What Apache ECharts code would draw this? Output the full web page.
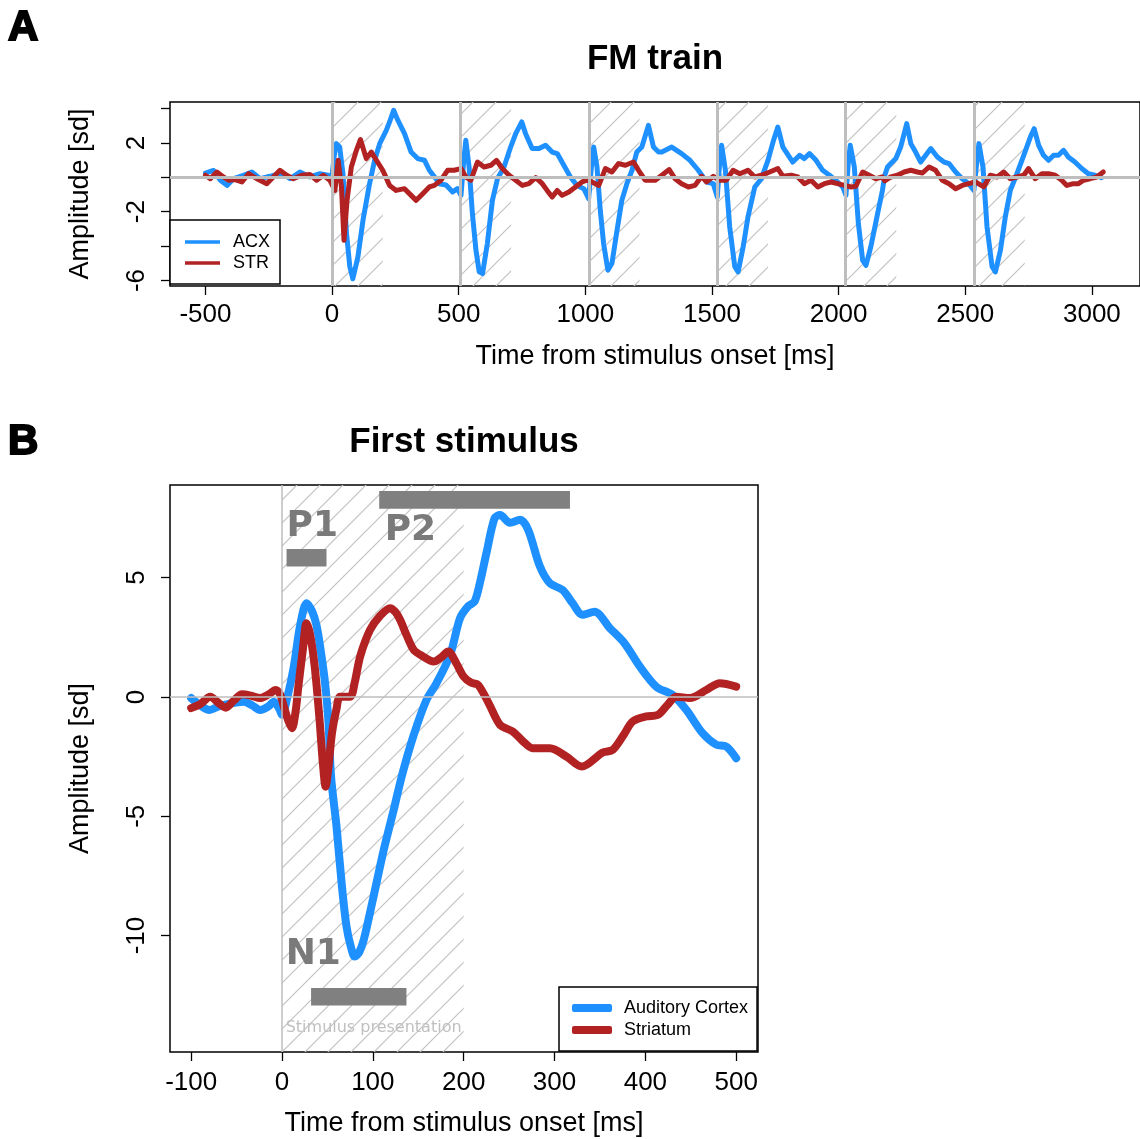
<!DOCTYPE html>
<html><head><meta charset="utf-8">
<script src="https://cdn.jsdelivr.net/npm/echarts@6/dist/echarts.min.js"></script>
<style>html,body{margin:0;padding:0;background:#fff}#c{width:1140px;height:1139px}</style>
</head><body><div id="c"></div>
<script>
// ---------- Panel A: FM train (time ms, amplitude sd) ----------
const acxA = [[-500,0.25],[-468,0.4],[-441,-0.17],[-415,-0.47],[-389,-0.08],[-350,0.12],[-317,0.31],[-284,-0.08],[-245,0.06],[-199,0.25],[-166,-0.08],[-127,0.31],[-88,0.02],[-48,0.21],[-16,0.12],[-2,-0.17],[8,1.2],[17,1.96],[30,1.76],[43,0.21],[57,-3.27],[70,-5.2],[82,-5.9],[102,-4.63],[122,-2.5],[148,-0.37],[168,0.99],[188,1.96],[214,2.73],[227,3.22],[243,3.9],[260,3.31],[286,2.54],[312,1.47],[338,1.09],[365,0.99],[384,0.41],[410,-0.08],[423,-0.37],[450,-0.45],[476,-0.85],[495,-0.66],[509,-1.05],[520,1.0],[528,2.15],[541,0.6],[554,-2.11],[568,-4.24],[581,-5.5],[594,-5.6],[613,-3.85],[633,-1.34],[653,-0.08],[679,0.6],[705,1.76],[725,2.54],[749,3.22],[764,2.54],[790,1.67],[817,1.67],[843,1.86],[869,1.47],[889,1.38],[915,0.7],[941,0.02],[967,-0.47],[994,-0.66],[1013,-1.24],[1025,0.8],[1033,1.76],[1046,0.6],[1059,-1.92],[1072,-3.85],[1089,-5.4],[1105,-5.0],[1125,-3.08],[1144,-1.34],[1164,-0.37],[1184,0.41],[1203,1.47],[1223,1.76],[1249,3.02],[1269,1.76],[1289,1.47],[1302,1.47],[1341,1.76],[1380,1.38],[1413,0.99],[1446,0.41],[1479,-0.27],[1505,-0.37],[1521,-1.15],[1530,0.8],[1538,1.86],[1553,0.41],[1570,-2.89],[1590,-5.2],[1603,-5.5],[1623,-4.05],[1642,-2.31],[1669,-0.56],[1695,-0.08],[1721,0.99],[1741,2.05],[1760,2.92],[1780,1.76],[1806,1.18],[1819,0.89],[1846,1.28],[1865,1.09],[1885,1.38],[1911,0.99],[1937,0.41],[1964,0.12],[1996,-0.27],[2016,-0.56],[2029,-1.05],[2038,0.8],[2046,1.86],[2062,0.6],[2078,-2.69],[2095,-4.83],[2108,-5.12],[2127,-4.05],[2154,-2.11],[2173,-0.76],[2182,0.1],[2193,0.6],[2206,0.8],[2226,1.09],[2245,1.76],[2269,3.12],[2285,1.96],[2304,1.47],[2324,0.89],[2344,1.28],[2364,1.67],[2390,1.18],[2416,0.89],[2436,0.8],[2462,0.31],[2488,-0.08],[2514,-0.37],[2534,-0.76],[2545,0.8],[2554,1.96],[2570,0.6],[2586,-2.89],[2606,-5.2],[2619,-5.5],[2639,-4.24],[2658,-2.31],[2678,-0.76],[2704,0.21],[2731,1.28],[2757,2.34],[2772,2.83],[2790,1.86],[2809,1.28],[2829,0.99],[2849,1.28],[2868,1.28],[2888,1.57],[2907,1.18],[2933,0.89],[2960,0.51],[2986,0.21],[3012,0.12],[3038,-0.02]];
const strA = [[-500,0.12],[-481,-0.08],[-455,0.31],[-429,0.02],[-409,-0.17],[-383,-0.13],[-356,-0.27],[-330,0.21],[-297,-0.08],[-258,-0.37],[-232,0.02],[-206,0.41],[-179,0.12],[-153,-0.08],[-120,0.12],[-88,0.17],[-61,-0.17],[-35,0.12],[-9,-0.17],[11,-0.76],[24,0.99],[37,-0.56],[47,-3.66],[59,-1.34],[76,0.6],[96,1.57],[112,2.2],[135,1.09],[155,1.47],[175,0.99],[200,0.41],[227,-0.47],[253,-0.76],[286,-0.66],[312,-1.05],[332,-1.34],[358,-0.95],[384,-0.56],[404,-0.47],[430,-0.17],[456,0.41],[482,0.41],[509,0.51],[528,0.02],[548,-0.17],[574,0.89],[600,0.6],[627,0.7],[649,0.99],[672,0.51],[699,0.12],[725,-0.17],[751,-0.47],[777,-0.37],[804,-0.02],[830,-0.37],[849,-0.76],[869,-1.15],[889,-0.76],[908,-1.05],[935,-0.85],[961,-0.56],[987,-0.27],[1007,-0.17],[1026,-0.27],[1053,-0.47],[1079,0.51],[1105,0.31],[1131,0.8],[1158,0.7],[1190,0.89],[1210,0.41],[1236,-0.17],[1262,-0.17],[1276,-0.17],[1302,0.12],[1331,0.45],[1354,-0.08],[1380,-0.37],[1407,-0.56],[1433,-0.47],[1459,0.06],[1479,-0.27],[1505,0.06],[1531,-0.17],[1557,-0.17],[1583,0.41],[1610,0.21],[1642,0.41],[1669,0.02],[1695,0.12],[1728,0.31],[1760,0.51],[1780,0.06],[1813,0.12],[1839,0.02],[1865,-0.37],[1891,-0.17],[1918,-0.56],[1944,-0.37],[1970,-0.27],[1996,-0.37],[2023,-0.47],[2049,-0.56],[2068,-0.52],[2095,0.31],[2121,0.12],[2147,-0.08],[2173,0.02],[2182,-0.2],[2206,0.02],[2232,0.12],[2259,0.31],[2285,0.41],[2311,0.31],[2331,0.25],[2357,0.6],[2383,0.41],[2409,-0.17],[2436,-0.37],[2462,-0.66],[2488,-0.47],[2514,-0.37],[2540,-0.27],[2573,-0.56],[2599,0.12],[2626,0.02],[2652,0.31],[2678,-0.08],[2704,0.02],[2731,0.12],[2750,0.51],[2776,-0.08],[2803,0.21],[2829,0.21],[2855,0.12],[2881,-0.17],[2901,-0.47],[2927,-0.37],[2947,-0.37],[2967,-0.17],[2993,-0.08],[3019,0.02],[3045,0.31]];
const stimOnsetsA = [0, 507, 1014, 1521, 2028, 2535];
const stimDuration = 200;
const xTicksA = [-500, 0, 500, 1000, 1500, 2000, 2500, 3000];
const yTicksA = [-6, -4, -2, 0, 2, 4];
const yLabelsA = [-6, -2, 2];

// ---------- Panel B: First stimulus ----------
const acxB = [[-100,-0.05],[-90,-0.35],[-80,-0.55],[-70,-0.4],[-60,-0.3],[-42,-0.2],[-33,-0.35],[-24,-0.55],[-15,-0.4],[-9,-0.2],[-3,-0.5],[0,-0.75],[6,0.0],[13,1.27],[20,3.0],[27,3.92],[33,3.6],[38,3.0],[42,2.1],[47,0.71],[51,-0.96],[54,-3.34],[60,-5.43],[66,-7.95],[71,-9.62],[76,-10.5],[80,-10.88],[85,-10.7],[90,-10.18],[100,-8.5],[112,-6.41],[123,-4.73],[132,-3.3],[145,-1.6],[159,-0.13],[170,0.57],[185,1.75],[196,3.3],[205,3.8],[212,4.0],[218,4.8],[225,6.02],[234,7.49],[240,7.62],[251,7.3],[262,7.42],[271,7.0],[284,5.46],[295,4.76],[309,4.48],[320,3.92],[331,3.44],[344,3.57],[361,2.88],[377,2.25],[394,1.27],[412,0.43],[430,0.08],[445,-0.54],[463,-1.52],[478,-2.0],[489,-2.08],[500,-2.57]];
const strB = [[-100,-0.47],[-90,-0.3],[-79,0.01],[-70,-0.25],[-62,-0.45],[-53,-0.15],[-44,0.11],[-34,0.05],[-24,-0.05],[-15,0.1],[-7,0.29],[-2,0.1],[2,-0.4],[7,-1.0],[11,-1.31],[15,-0.6],[18,0.43],[23,2.0],[27,3.09],[31,2.6],[36,1.27],[41,-0.8],[45,-2.78],[48,-3.76],[51,-3.0],[55,-1.52],[60,-0.5],[64,0.01],[75,0.01],[80,0.6],[86,1.69],[97,2.81],[108,3.4],[119,3.72],[125,3.55],[130,3.23],[137,2.6],[145,1.97],[155,1.7],[167,1.48],[175,1.65],[183,1.9],[192,1.4],[200,0.85],[208,0.6],[216,0.5],[228,-0.3],[240,-1.17],[254,-1.45],[265,-1.85],[276,-2.15],[295,-2.15],[313,-2.5],[330,-2.92],[353,-2.33],[364,-2.22],[376,-1.6],[386,-1.03],[401,-0.82],[414,-0.75],[424,-0.35],[434,0.01],[449,-0.05],[467,0.29],[482,0.57],[500,0.43]];
const xTicksB = [-100, 0, 100, 200, 300, 400, 500];
const yTicksB = [-10, -5, 0, 5];
const componentBars = [
  {name: 'P1', x: [5, 49], y: [5.46, 6.2]},
  {name: 'P2', x: [107, 317], y: [7.89, 8.63]},
  {name: 'N1', x: [32, 137], y: [-12.93, -12.2]}
];
const componentLabels = [
  {name: 'P1', x: 4.5, y: 7.15},
  {name: 'P2', x: 112.5, y: 6.95},
  {name: 'N1', x: 3.5, y: -10.8}
];
const stimLabel = {name: 'Stimulus presentation', x: 3.5, y: -13.87};

const BLUE = '#1E90FF', RED = '#B22222', GREY = '#BEBEBE';
const FONT = '"Liberation Sans", Arial, Helvetica, sans-serif';

function hatchCanvas() {
  const s = 23, c = document.createElement('canvas');
  c.width = s; c.height = s;
  const g = c.getContext('2d');
  g.strokeStyle = '#c2c2c2'; g.lineWidth = 1.2;
  g.beginPath();
  for (const off of [0, s, 2 * s]) { g.moveTo(-s, s + off); g.lineTo(2 * s, -2 * s + off); }
  g.stroke();
  return c;
}
const hatchFill = {image: hatchCanvas(), repeat: 'repeat'};

const chart = echarts.init(document.getElementById('c'), null, {renderer: 'canvas'});

const plainNum = v => String(v);

function valueAxis(o) {
  return Object.assign({
    type: 'value', splitLine: {show: false},
    axisLine: {show: false, onZero: false},
    nameLocation: 'middle',
    nameTextStyle: {color: '#000', fontSize: 27, fontFamily: FONT}
  }, o);
}
function ticks(vals) {
  return {show: true, length: 9, inside: false, customValues: vals, lineStyle: {color: '#000', width: 1.3}};
}
function labels(vals, extra) {
  return Object.assign({customValues: vals, formatter: plainNum, color: '#000', fontSize: 26, fontFamily: FONT, margin: 16}, extra || {});
}

const option = {
  animation: false,
  backgroundColor: '#fff',
  textStyle: {fontFamily: FONT},
  grid: [
    {left: 170, top: 102, width: 974, height: 184, show: true, borderColor: '#000', borderWidth: 1.5, backgroundColor: 'transparent'},
    {left: 170, top: 485, width: 588, height: 567, show: true, borderColor: '#000', borderWidth: 1.5, backgroundColor: 'transparent'}
  ],
  xAxis: [
    valueAxis({gridIndex: 0, min: -640, max: 3190, axisTick: ticks(xTicksA), axisLabel: labels(xTicksA),
      name: 'Time from stimulus onset [ms]', nameGap: 57}),
    valueAxis({gridIndex: 1, min: -123.3, max: 524, axisTick: ticks(xTicksB), axisLabel: labels(xTicksB, {margin: 18}),
      name: 'Time from stimulus onset [ms]', nameGap: 58})
  ],
  yAxis: [
    valueAxis({gridIndex: 0, min: -6.32, max: 4.38, axisTick: ticks(yTicksA),
      axisLabel: labels(yLabelsA, {rotate: 90, margin: 20}),
      name: 'Amplitude [sd]', nameGap: 76}),
    valueAxis({gridIndex: 1, min: -14.88, max: 8.88, axisTick: ticks(yTicksB),
      axisLabel: labels(yTicksB, {rotate: 90, margin: 20}),
      name: 'Amplitude [sd]', nameGap: 76})
  ],
  legend: [
    {data: ['ACX', 'STR'], orient: 'vertical', left: 170, top: 220,
      padding: [13, 10, 12, 15], itemGap: 3, itemWidth: 35, itemHeight: 3.5, icon: 'rect',
      borderColor: '#000', borderWidth: 1.5, backgroundColor: '#fff', borderRadius: 0,
      textStyle: {fontSize: 18, color: '#000', fontFamily: FONT, padding: [0, 0, 0, 8]},
      selectedMode: false},
    {data: ['Auditory Cortex', 'Striatum'], orient: 'vertical', left: 559, top: 987,
      padding: [12, 9, 12, 13], itemGap: 4, itemWidth: 40, itemHeight: 8, icon: 'roundRect',
      borderColor: '#000', borderWidth: 1.5, backgroundColor: '#fff', borderRadius: 0,
      textStyle: {fontSize: 18, color: '#000', fontFamily: FONT, padding: [0, 0, 0, 7]},
      selectedMode: false}
  ],
  graphic: [
    {type: 'text', x: 8, y: 28, style: {text: 'A', font: 'bold 42px ' + FONT, fill: '#000', stroke: '#000', lineWidth: 2, textAlign: 'left', textVerticalAlign: 'middle', align: 'left', verticalAlign: 'middle'}},
    {type: 'text', x: 8, y: 442, style: {text: 'B', font: 'bold 42px ' + FONT, fill: '#000', stroke: '#000', lineWidth: 2, textAlign: 'left', textVerticalAlign: 'middle', align: 'left', verticalAlign: 'middle'}},
    {type: 'text', x: 655, y: 59, style: {text: 'FM train', font: 'bold 35px ' + FONT, fill: '#000', textAlign: 'center', textVerticalAlign: 'middle', align: 'center', verticalAlign: 'middle'}},
    {type: 'text', x: 464, y: 442, style: {text: 'First stimulus', font: 'bold 35px ' + FONT, fill: '#000', textAlign: 'center', textVerticalAlign: 'middle', align: 'center', verticalAlign: 'middle'}}
  ],
  series: [
    {name: 'bgA', type: 'line', xAxisIndex: 0, yAxisIndex: 0, data: [], z: 1, silent: true,
      markArea: {silent: true, label: {show: false},
        itemStyle: {color: hatchFill, opacity: 1, borderWidth: 0},
        data: stimOnsetsA.map(t => [{xAxis: t}, {xAxis: t + stimDuration}])},
      markLine: {silent: true, symbol: ['none', 'none'], label: {show: false},
        lineStyle: {color: GREY, width: 3, type: 'solid'},
        data: [{yAxis: 0}].concat(stimOnsetsA.map(t => ({xAxis: t})))}},
    {name: 'ACX', type: 'line', xAxisIndex: 0, yAxisIndex: 0, data: acxA, showSymbol: false, z: 3,
      color: BLUE, lineStyle: {color: BLUE, width: 5, cap: 'round', join: 'round'}},
    {name: 'STR', type: 'line', xAxisIndex: 0, yAxisIndex: 0, data: strA, showSymbol: false, z: 4,
      color: RED, lineStyle: {color: RED, width: 5, cap: 'round', join: 'round'}},

    {name: 'bgB', type: 'line', xAxisIndex: 1, yAxisIndex: 1, data: [], z: 1, silent: true,
      markArea: {silent: true, label: {show: false},
        data: [[{xAxis: 0, itemStyle: {color: hatchFill, opacity: 1}}, {xAxis: stimDuration}]]
          .concat(componentBars.map(b => [{xAxis: b.x[0], yAxis: b.y[0], itemStyle: {color: '#808080', opacity: 1}}, {xAxis: b.x[1], yAxis: b.y[1]}]))},
      markLine: {silent: true, symbol: ['none', 'none'], label: {show: false},
        lineStyle: {color: GREY, width: 1.5, type: 'solid'},
        data: [{yAxis: 0}, {xAxis: 0}]}},
    {name: 'labelsB', type: 'scatter', xAxisIndex: 1, yAxisIndex: 1, z: 2, silent: true,
      symbolSize: 1, itemStyle: {color: '#ffffff', opacity: 1},
      data: componentLabels.map(l => ({name: l.name, value: [l.x, l.y],
        label: {show: true, position: 'right', distance: 0, formatter: l.name, textBorderWidth: 0,
          fontFamily: '"DejaVu Sans", sans-serif', fontWeight: 'bold', fontSize: 36, color: '#7a7a7a'}}))
        .concat([{name: stimLabel.name, value: [stimLabel.x, stimLabel.y],
          label: {show: true, position: 'right', distance: 0, formatter: stimLabel.name, textBorderWidth: 0,
            fontFamily: '"DejaVu Sans", sans-serif', fontSize: 16, color: '#c0c0c0'}}])},
    {name: 'Auditory Cortex', type: 'line', xAxisIndex: 1, yAxisIndex: 1, data: acxB, showSymbol: false, z: 3,
      smooth: 0.3, color: BLUE, lineStyle: {color: BLUE, width: 8, cap: 'round', join: 'round'}},
    {name: 'Striatum', type: 'line', xAxisIndex: 1, yAxisIndex: 1, data: strB, showSymbol: false, z: 4,
      smooth: 0.3, color: RED, lineStyle: {color: RED, width: 8, cap: 'round', join: 'round'}}
  ]
};
chart.setOption(option);
</script>
</body></html>
